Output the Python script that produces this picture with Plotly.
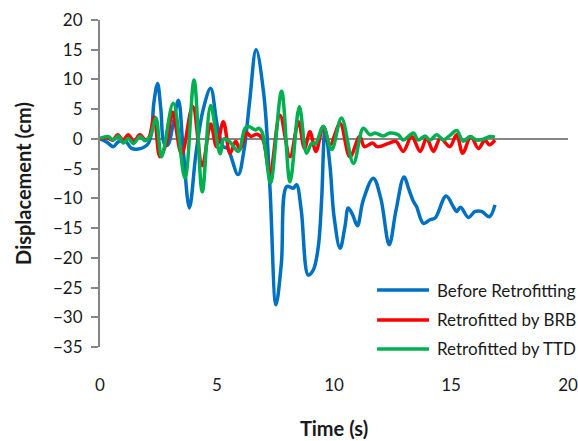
import plotly.graph_objects as go

# ---- data ----
t_before = [0, 0.28, 0.57, 0.78, 1.07, 1.35, 1.64, 1.92, 2.07, 2.2, 2.3, 2.46, 2.6, 2.75, 2.9,
            3.1, 3.35, 3.55, 3.82, 4.1, 4.4, 4.73, 5.0, 5.27, 5.45, 5.9, 6.15, 6.4, 6.67,
            7.0, 7.26, 7.52, 7.75, 7.98, 8.26, 8.4, 8.6, 8.9, 9.12, 9.33, 9.47, 9.62, 9.83,
            10.0, 10.26, 10.47, 10.61, 10.8, 11.0, 11.25, 11.68, 12.0, 12.36, 12.65, 12.99,
            13.2, 13.39, 13.53, 13.82, 14.1, 14.32, 14.79, 15.1, 15.24, 15.41, 15.74, 16.03,
            16.31, 16.64, 16.88]
before = [0, -0.5, -1.3, -0.5, -0.3, -1.6, -1.7, -1.3, -0.7, 1.0, 6.0, 9.3, 5.0, -0.8, -1.0,
          2.0, 6.5, -1.5, -11.6, -2.5, 4.8, 8.5, 2.5, -1.3, -1.6, -6.0, -2.0, 6.5, 15.0,
          7.5, -8.0, -27.9, -21.0, -8.0, -8.3, -7.7, -12.0, -22.9, -22.0, -18.1, -10.3, 1.5, -4.6,
          -13.0, -18.4, -14.7, -11.6, -12.8, -14.6, -10.3, -6.6, -10.0, -17.8, -12.0, -6.4,
          -8.5, -10.5, -11.4, -14.2, -13.6, -13.3, -9.6, -11.4, -12.2, -11.5, -13.2, -12.2,
          -12.2, -13.1, -11.1]

t_brb = [0, 0.3, 0.55, 0.75, 1.0, 1.2, 1.45, 1.7, 1.95, 2.1, 2.32, 2.56, 2.85, 3.1, 3.49,
         3.96, 4.37, 4.73, 4.98, 5.27, 5.56, 5.8, 5.98, 6.27, 6.45, 6.7, 6.95, 7.26, 7.69,
         8.12, 8.48, 8.74, 8.97, 9.23, 9.54, 9.83, 10.26, 10.68, 11.1, 11.3, 11.65, 11.85,
         12.36, 12.65, 12.96, 13.32, 13.68, 13.96, 14.25, 14.55, 14.95, 15.24, 15.5, 15.85,
         16.17, 16.45, 16.64, 16.88]
brb = [0, 0.2, -0.2, 0.7, -0.2, 0.7, -0.4, 0.7, -0.2, 0.3, 3.7, -3.0, -0.5, 4.5, -2.6,
       5.5, -4.5, 2.5, -1.3, 2.9, -2.4, -0.4, -1.8, 1.0, 0.4, 0.8, 0.0, -5.8, 4.0,
       -3.0, 2.9, -1.6, 1.2, -2.1, 2.1, -1.0, 2.6, -3.0, 0.4, -1.3, -0.7, -1.3,
       -0.7, -0.4, -2.1, 0.4, -2.1, 0.1, -2.1, 0.1, -1.3, 0.7, -2.4, 0.4,
       -1.6, -0.2, -1.0, -0.2]

t_ttd = [0, 0.35, 0.57, 0.78, 1.0, 1.21, 1.42, 1.71, 1.92, 2.14, 2.39, 2.63, 3.13, 3.63,
         4.02, 4.37, 4.73, 5.13, 5.3, 5.55, 5.91, 6.2, 6.35, 6.65, 6.78, 6.92, 7.05, 7.29,
         7.76, 8.12, 8.52, 8.83, 9.05, 9.2, 9.54, 9.9, 10.32, 10.83, 11.25, 11.53, 11.75,
         12.1, 12.39, 12.75, 12.96, 13.39, 13.6, 13.89, 14.1, 14.39, 14.67, 14.93, 15.24,
         15.52, 15.81, 16.1, 16.38, 16.67, 16.88]
ttd = [0.1, 0.4, -0.2, 0.5, -0.7, 0.1, -0.8, 0.4, -0.3, 0.4, 3.5, -3.0, 6.0, -6.6,
       9.9, -8.9, 5.6, -2.5, 0.0, -0.5, -2.1, 1.8, 2.1, 1.5, 1.8, 1.2, -1.3, -7.4,
       8.0, -7.2, 5.4, -2.4, -0.7, -0.9, 2.1, -1.8, 3.5, -4.1, 1.8, 0.7, 1.0,
       0.5, 1.0, 0.7, -0.2, 1.0, -0.2, 0.5, -0.2, 0.7, -0.2, 0.5, 1.4,
       -0.4, 0.4, -0.2, -0.05, 0.4, 0.3]

series_names = ["Before Retrofitting", "Retrofitted by BRB", "Retrofitted by TTD"]
series_colors = ["#0070C0", "#FF0000", "#00B050"]
x_ticks = [0, 5, 10, 15, 20]
y_ticks = [20, 15, 10, 5, 0, -5, -10, -15, -20, -25, -30, -35]

FONT = "Lato"
AXIS_GRAY = "#868686"
TXT = "#1a1a1a"

fig = go.Figure()
for tx, vy, name, col in zip([t_before, t_brb, t_ttd], [before, brb, ttd], series_names, series_colors):
    fig.add_trace(go.Scatter(x=tx, y=vy, mode="lines", name=name,
                             line=dict(color=col, width=3.5, shape="spline", smoothing=1.0),
                             showlegend=False))

# custom legend (longer line samples as in the reference)
leg_y = [0.1743, 0.0826, -0.0061]
for name, col, yy in zip(series_names, series_colors, leg_y):
    fig.add_shape(type="line", xref="paper", yref="paper", x0=0.592, x1=0.703, y0=yy, y1=yy,
                  line=dict(color=col, width=3.5))
    fig.add_annotation(xref="paper", yref="paper", x=0.7158, y=yy, text=name, showarrow=False,
                       xanchor="left", yanchor="middle", font=dict(family=FONT, size=17, color=TXT))

fig.update_layout(
    width=578, height=441,
    margin=dict(l=100, r=10, t=20, b=94),
    paper_bgcolor="white", plot_bgcolor="white",
    font=dict(family=FONT, size=17, color=TXT),
    xaxis=dict(range=[0, 20], tickvals=x_ticks, showgrid=False, zeroline=False,
               showline=False, ticks="", ticklabelstandoff=26, automargin=False,
               tickfont=dict(family=FONT, size=17, color=TXT),
               title=dict(text="<b>Time (s)</b>", font=dict(family=FONT, size=20, color=TXT), standoff=27)),
    yaxis=dict(range=[-35, 20], tickvals=y_ticks, showgrid=False, automargin=False,
               zeroline=True, zerolinecolor=AXIS_GRAY, zerolinewidth=2,
               showline=True, linecolor=AXIS_GRAY, linewidth=2,
               ticks="outside", ticklen=7, tickwidth=2, tickcolor=AXIS_GRAY,
               ticklabelstandoff=5,
               tickfont=dict(family=FONT, size=17, color=TXT),
               title=dict(text="<b>Displacement (cm)</b>", font=dict(family=FONT, size=20, color=TXT), standoff=16)),
)

fig.write_html("out.html")
